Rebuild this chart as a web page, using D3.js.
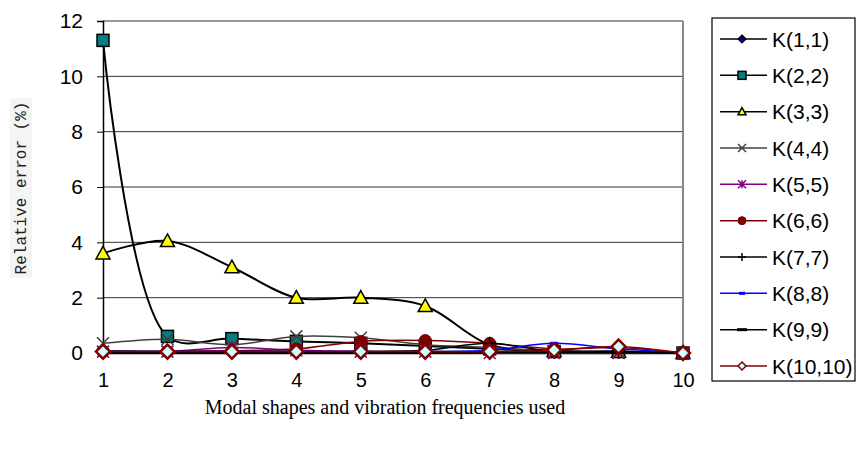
<!DOCTYPE html>
<html>
<head>
<meta charset="utf-8">
<script src="https://cdn.jsdelivr.net/npm/d3@7"></script>
<style>
  body { margin: 0; background: #fff; }
  svg { display: block; }
</style>
</head>
<body>
<svg width="858" height="450"></svg>
<script>
// Dati
const categories = [1, 2, 3, 4, 5, 6, 7, 8, 9, 10];
const seriesNames = ["K(1,1)", "K(2,2)", "K(3,3)", "K(4,4)", "K(5,5)", "K(6,6)", "K(7,7)", "K(8,8)", "K(9,9)", "K(10,10)"];
const k11 = [0.08, 0.05, 0.05, 0.05, 0.05, 0.05, 0.05, 0.02, 0.02, 0];
const k22 = [11.3, 0.6, 0.52, 0.42, 0.35, 0.25, 0.15, 0.05, 0.05, 0];
const k33 = [3.6, 4.05, 3.1, 2.0, 2.0, 1.7, 0.3, 0.08, 0.05, 0];
const k44 = [0.35, 0.5, 0.3, 0.6, 0.55, 0.3, 0.2, 0.05, 0.05, 0];
const k55 = [0.05, 0.05, 0.2, 0.1, 0.05, 0.05, 0.0, 0.0, 0.0, 0];
const k66 = [0.05, 0.05, 0.08, 0.15, 0.42, 0.45, 0.35, 0.15, 0.2, 0];
const k77 = [0.05, 0.05, 0.05, 0.05, 0.05, 0.1, 0.35, 0.05, 0.05, 0];
const k88 = [0.05, 0.05, 0.05, 0.05, 0.05, 0.05, 0.1, 0.35, 0.15, 0];
const k99 = [0.02, 0.02, 0.02, 0.02, 0.02, 0.02, 0.02, 0.02, 0.02, 0];
const k1010 = [0.05, 0.05, 0.05, 0.05, 0.05, 0.05, 0.05, 0.1, 0.23, 0];
const yTicks = [0, 2, 4, 6, 8, 10, 12];

const allValues = [k11, k22, k33, k44, k55, k66, k77, k88, k99, k1010];

// Stile di ogni serie
const styles = [
  { color: "#000000", width: 1.5, marker: "diamond", fill: "#000080", stroke: "#000000", size: 12 },
  { color: "#000000", width: 2, marker: "square", fill: "#008080", stroke: "#000000", size: 12 },
  { color: "#000000", width: 2, marker: "triangle", fill: "#ffff00", stroke: "#000000", size: 14 },
  { color: "#404040", width: 1.5, marker: "x", fill: "none", stroke: "#404040", size: 12 },
  { color: "#800080", width: 1.5, marker: "star", fill: "none", stroke: "#800080", size: 12 },
  { color: "#800000", width: 1.5, marker: "circle", fill: "#800000", stroke: "#800000", size: 12 },
  { color: "#000000", width: 1.5, marker: "plus", fill: "none", stroke: "#000000", size: 12 },
  { color: "#0000ff", width: 1.5, marker: "dash", fill: "#0000ff", stroke: "#0000ff", size: 8 },
  { color: "#000000", width: 1.5, marker: "longdash", fill: "#000000", stroke: "#000000", size: 12 },
  { color: "#800000", width: 1.5, marker: "diamond", fill: "#ccffff", stroke: "#800000", size: 14, sw: 2.5 }
];

const svg = d3.select("svg");
const plot = { left: 103, right: 683, top: 21, bottom: 353 };

const x = d3.scaleLinear().domain([1, 10]).range([plot.left, plot.right]);
const y = d3.scaleLinear().domain([0, 12]).range([plot.bottom, plot.top]);

// Griglia
svg.append("g")
  .selectAll("line")
  .data(yTicks)
  .join("line")
  .attr("x1", plot.left)
  .attr("x2", plot.right)
  .attr("y1", (d) => y(d))
  .attr("y2", (d) => y(d))
  .attr("stroke", "#333")
  .attr("stroke-width", 1);

// bordo destro
svg.append("line")
  .attr("x1", plot.right).attr("x2", plot.right)
  .attr("y1", plot.top).attr("y2", plot.bottom)
  .attr("stroke", "#888").attr("stroke-width", 2);

// Assi
const yAxis = d3.axisLeft(y).tickValues(yTicks).tickSize(6).tickPadding(14).tickFormat(d3.format("d"));
const gy = svg.append("g").attr("transform", `translate(${plot.left},0)`).call(yAxis);
gy.select(".domain").attr("stroke", "#000").attr("stroke-width", 1.5);
gy.selectAll("text").attr("font-family", "Arial, 'Liberation Sans'").attr("font-size", 21).attr("fill", "#000");

const xAxis = d3.axisBottom(x).tickValues(categories).tickSize(4).tickPadding(16).tickFormat(d3.format("d"));
const gx = svg.append("g").attr("transform", `translate(0,${plot.bottom})`).call(xAxis);
gx.select(".domain").attr("stroke", "#000").attr("stroke-width", 1.5);
gx.selectAll("text").attr("font-family", "Arial, 'Liberation Sans'").attr("font-size", 20).attr("fill", "#000");

// Linee (smussate come in Excel)
const line = d3.line()
  .x((d, i) => x(categories[i]))
  .y((d) => y(d))
  .curve(d3.curveCatmullRom.alpha(0.5));

function drawMarker(g, s, cx, cy, size) {
  const h = size / 2;
  const sw = s.sw || 1.2;
  if (s.marker === "diamond") {
    g.append("path").attr("d", `M${cx},${cy - h}L${cx + h},${cy}L${cx},${cy + h}L${cx - h},${cy}Z`)
      .attr("fill", s.fill).attr("stroke", s.stroke).attr("stroke-width", sw);
  } else if (s.marker === "square") {
    g.append("rect").attr("x", cx - h).attr("y", cy - h).attr("width", size).attr("height", size)
      .attr("fill", s.fill).attr("stroke", s.stroke).attr("stroke-width", 1.5);
  } else if (s.marker === "triangle") {
    g.append("path").attr("d", `M${cx},${cy - h}L${cx + h},${cy + h * 0.8}L${cx - h},${cy + h * 0.8}Z`)
      .attr("fill", s.fill).attr("stroke", s.stroke).attr("stroke-width", 1.5);
  } else if (s.marker === "x") {
    g.append("path").attr("d", `M${cx - h},${cy - h}L${cx + h},${cy + h}M${cx - h},${cy + h}L${cx + h},${cy - h}`)
      .attr("stroke", s.stroke).attr("stroke-width", 1.5);
  } else if (s.marker === "star") {
    g.append("path").attr("d", `M${cx - h},${cy - h}L${cx + h},${cy + h}M${cx - h},${cy + h}L${cx + h},${cy - h}M${cx},${cy - h}L${cx},${cy + h}`)
      .attr("stroke", s.stroke).attr("stroke-width", 1.5);
  } else if (s.marker === "circle") {
    g.append("circle").attr("cx", cx).attr("cy", cy).attr("r", h)
      .attr("fill", s.fill).attr("stroke", s.stroke);
  } else if (s.marker === "plus") {
    g.append("path").attr("d", `M${cx - h},${cy}L${cx + h},${cy}M${cx},${cy - h}L${cx},${cy + h}`)
      .attr("stroke", s.stroke).attr("stroke-width", 1.5);
  } else if (s.marker === "dash" || s.marker === "longdash") {
    g.append("rect").attr("x", cx - h).attr("y", cy - 1.5).attr("width", size).attr("height", 3)
      .attr("fill", s.fill);
  }
}

allValues.forEach((vals, si) => {
  const s = styles[si];
  const g = svg.append("g");
  g.append("path")
    .attr("d", line(vals))
    .attr("fill", "none")
    .attr("stroke", s.color)
    .attr("stroke-width", s.width);
  vals.forEach((v, i) => drawMarker(g, s, x(categories[i]), y(v), s.size));
});

// Legenda
const legend = svg.append("g");
legend.append("rect")
  .attr("x", 712).attr("y", 18).attr("width", 143).attr("height", 363)
  .attr("fill", "#fff").attr("stroke", "#000").attr("stroke-width", 1.2);

const ly = d3.scalePoint().domain(seriesNames).range([39, 366]);
seriesNames.forEach((name, i) => {
  const s = styles[i];
  const cy = ly(name);
  legend.append("line").attr("x1", 720).attr("x2", 767).attr("y1", cy).attr("y2", cy)
    .attr("stroke", s.color).attr("stroke-width", 1.5);
  const ls = Object.assign({}, s, { sw: s.sw ? 1.5 : 1.2 });
  drawMarker(legend, ls, 742, cy, s.marker === "longdash" ? 10 : s.marker === "dash" ? 6 : 8);
  legend.append("text").attr("x", 772).attr("y", cy).attr("dy", "0.36em")
    .attr("font-family", "Arial, 'Liberation Sans'").attr("font-size", 21).text(name);
});

// Titoli assi
svg.append("text")
  .attr("x", (plot.left + plot.right) / 2 - 8).attr("y", 414)
  .attr("text-anchor", "middle")
  .attr("font-family", "'Times New Roman', 'Liberation Serif'")
  .attr("font-size", 20)
  .text("Modal shapes and vibration frequencies used");

svg.append("rect").attr("x", 10).attr("y", 98).attr("width", 22).attr("height", 180).attr("fill", "#f4f4f4");
svg.append("text")
  .attr("transform", "translate(26,188) rotate(-90)")
  .attr("text-anchor", "middle")
  .attr("font-family", "'Courier New', 'Liberation Mono'")
  .attr("font-size", 16)
  .attr("fill", "#222")
  .text("Relative error (%)");
</script>
</body>
</html>
